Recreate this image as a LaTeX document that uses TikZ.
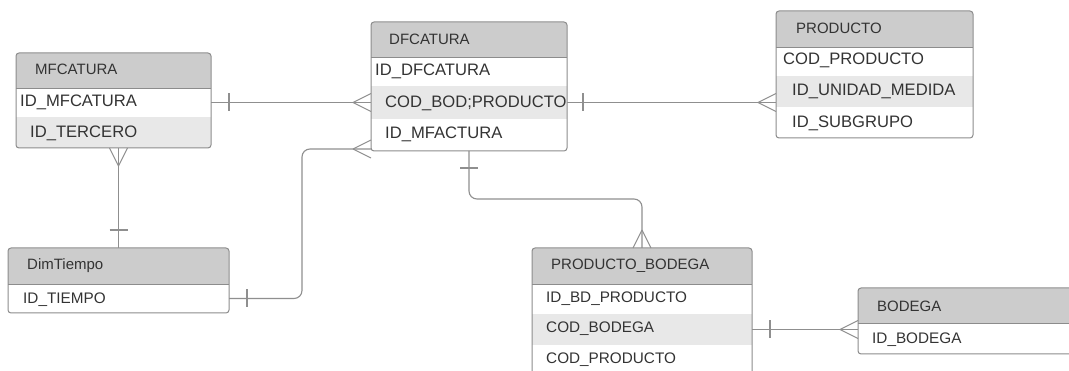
\documentclass[tikz,border=0pt]{standalone}
\usepackage{fontspec}
\setmainfont{Liberation Sans}
\usetikzlibrary{calc,fit}
\definecolor{headfill}{HTML}{CCCCCC}
\definecolor{bandfill}{HTML}{E8E8E8}
\definecolor{boxline}{HTML}{8C8C8C}
\definecolor{linkc}{HTML}{8F8F8F}
\definecolor{txt}{HTML}{333333}
\begin{document}
\begin{tikzpicture}[x=1pt,y=-1pt,
  cell/.style={rectangle,anchor=north west,inner sep=0pt,outer sep=0pt,draw=none},
  frame/.style={rectangle,inner sep=0pt,outer sep=0pt,draw=boxline,line width=1pt,rounded corners=3pt},
  sep/.style={draw=boxline,line width=0.9pt},
  ttl/.style={anchor=base west,inner sep=0pt,text=txt,font=\fontsize{15}{15}\selectfont},
  fld/.style={anchor=base west,inner sep=0pt,text=txt,font=\fontsize{16.6}{17}\selectfont},
  fldsm/.style={anchor=base west,inner sep=0pt,text=txt,font=\fontsize{15.3}{16}\selectfont},
  link/.style={draw=linkc,line width=1.1pt},
  crow/.pic={\draw[link] (-18,0) -- (0,-9) (-18,0) -- (0,9);},
  bar/.pic={\draw[link] (0,-9) -- (0,9);}
  ]
\fill[white] (0,0) rectangle (1069,371);
\useasboundingbox (0,0) rectangle (1069,371);

% ---------- MFCATURA ----------
\begin{scope}
  \clip[rounded corners=3pt] (16,53) rectangle (211,148);
  \node[cell,fill=headfill,minimum width=195pt,minimum height=35pt] (mf-h) at (16,53) {};
  \node[cell,minimum width=195pt,minimum height=29pt] (mf-1) at (16,88) {};
  \node[cell,fill=bandfill,minimum width=195pt,minimum height=31pt] (mf-2) at (16,117) {};
\end{scope}
\draw[sep] (mf-h.south west) -- (mf-h.south east);
\node[frame,fit=(mf-h)(mf-2)] (mf) {};
\node[ttl] (mf-t) at (35,75) {MFCATURA};
\node[fld] (mf-f1) at (20,106.5) {ID\_MFCATURA};
\node[fld] (mf-f2) at (30,138) {ID\_TERCERO};

% ---------- DFCATURA ----------
\begin{scope}
  \clip[rounded corners=3pt] (371,22) rectangle (567,151);
  \node[cell,fill=headfill,minimum width=196pt,minimum height=35pt] (df-h) at (371,22) {};
  \node[cell,minimum width=196pt,minimum height=29pt] (df-1) at (371,57) {};
  \node[cell,fill=bandfill,minimum width=196pt,minimum height=33pt] (df-2) at (371,86) {};
  \node[cell,minimum width=196pt,minimum height=32pt] (df-3) at (371,119) {};
\end{scope}
\draw[sep] (df-h.south west) -- (df-h.south east);
\node[frame,fit=(df-h)(df-3)] (df) {};
\node[ttl] (df-t) at (389,45) {DFCATURA};
\node[fld] (df-f1) at (375,75.5) {ID\_DFCATURA};
\node[fld] (df-f2) at (385,107.5) {COD\_BOD;PRODUCTO};
\node[fld] (df-f3) at (385,139) {ID\_MFACTURA};

% ---------- PRODUCTO ----------
\begin{scope}
  \clip[rounded corners=3pt] (776,11) rectangle (973,138);
  \node[cell,fill=headfill,minimum width=197pt,minimum height=36pt] (pr-h) at (776,11) {};
  \node[cell,minimum width=197pt,minimum height=29pt] (pr-1) at (776,47) {};
  \node[cell,fill=bandfill,minimum width=197pt,minimum height=31pt] (pr-2) at (776,76) {};
  \node[cell,minimum width=197pt,minimum height=31pt] (pr-3) at (776,107) {};
\end{scope}
\draw[sep] (pr-h.south west) -- (pr-h.south east);
\node[frame,fit=(pr-h)(pr-3)] (pr) {};
\node[ttl] (pr-t) at (796,33.3) {PRODUCTO};
\node[fld] (pr-f1) at (783,64.3) {COD\_PRODUCTO};
\node[fld] (pr-f2) at (792,95.5) {ID\_UNIDAD\_MEDIDA};
\node[fld] (pr-f3) at (792,128) {ID\_SUBGRUPO};

% ---------- DimTiempo ----------
\begin{scope}
  \clip[rounded corners=3pt] (8,248) rectangle (229,313);
  \node[cell,fill=headfill,minimum width=221pt,minimum height=36pt] (dt-h) at (8,248) {};
  \node[cell,minimum width=221pt,minimum height=29pt] (dt-1) at (8,284) {};
\end{scope}
\draw[sep] (dt-h.south west) -- (dt-h.south east);
\node[frame,fit=(dt-h)(dt-1)] (dt) {};
\node[ttl] (dt-t) at (27,270) {DimTiempo};
\node[fldsm] (dt-f1) at (23,304) {ID\_TIEMPO};

% ---------- PRODUCTO_BODEGA ----------
\begin{scope}
  \clip[rounded corners=3pt] (532,248) rectangle (752,382);
  \node[cell,fill=headfill,minimum width=220pt,minimum height=36pt] (pb-h) at (532,248) {};
  \node[cell,minimum width=220pt,minimum height=30pt] (pb-1) at (532,284) {};
  \node[cell,fill=bandfill,minimum width=220pt,minimum height=31pt] (pb-2) at (532,314) {};
  \node[cell,minimum width=220pt,minimum height=37pt] (pb-3) at (532,345) {};
\end{scope}
\draw[sep] (pb-h.south west) -- (pb-h.south east);
\node[frame,fit=(pb-h)(pb-3)] (pb) {};
\node[ttl] (pb-t) at (551,270) {PRODUCTO\_BODEGA};
\node[fldsm] (pb-f1) at (546,302.7) {ID\_BD\_PRODUCTO};
\node[fldsm] (pb-f2) at (546,333) {COD\_BODEGA};
\node[fldsm] (pb-f3) at (546,364) {COD\_PRODUCTO};

% ---------- BODEGA ----------
\begin{scope}
  \clip[rounded corners=3pt] (858,288) rectangle (1085,354);
  \node[cell,fill=headfill,minimum width=227pt,minimum height=35pt] (bo-h) at (858,288) {};
  \node[cell,minimum width=227pt,minimum height=31pt] (bo-1) at (858,323) {};
\end{scope}
\draw[sep] (bo-h.south west) -- (bo-h.south east);
\node[frame,fit=(bo-h)(bo-1)] (bo) {};
\node[ttl] (bo-t) at (877,311.7) {BODEGA};
\node[fldsm] (bo-f1) at (872,344) {ID\_BODEGA};

% ---------- relationships ----------
% MFCATURA 1 -- N DFCATURA
\draw[link] (mf-1.east) -- (mf-1.east -| df.west);
\pic at ($(mf-1.east)+(18,0)$) {bar};
\pic at (mf-1.east -| df.west) {crow};

% PRODUCTO 1 -- N DFCATURA (drawn from the detail row)
\draw[link] (df-2.east) -- (df-2.east -| pr.west);
\pic at ($(df-2.east)+(16,0)$) {bar};
\pic at (df-2.east -| pr.west) {crow};

% DimTiempo 1 -- N DFCATURA
\coordinate (dfin) at ($(df.south west)+(0,-2)$);
\draw[link,rounded corners=8pt] (dt-1.east) -| ($(dfin)+(-69,0)$) -- (dfin);
\pic at ($(dt-1.east)+(18,0)$) {bar};
\pic at (dfin) {crow};

% DimTiempo 1 -- N MFCATURA
\draw[link] (dt.north) -- (dt.north |- mf.south);
\pic[rotate=90] at ($(dt.north)+(0,-18)$) {bar};
\pic[rotate=90] at (dt.north |- mf.south) {crow};

% DFCATURA 1 -- N PRODUCTO_BODEGA
\draw[link,rounded corners=8pt] (df.south) |- ($(pb.north)+(0,-49)$) -- (pb.north);
\pic[rotate=90] at ($(df.south)+(0,17)$) {bar};
\pic[rotate=-90] at (pb.north) {crow};

% PRODUCTO_BODEGA N -- 1 BODEGA
\draw[link] (pb-2.east) -- (pb-2.east -| bo.west);
\pic at ($(pb-2.east)+(18,0)$) {bar};
\pic at (pb-2.east -| bo.west) {crow};
\end{tikzpicture}
\end{document}
